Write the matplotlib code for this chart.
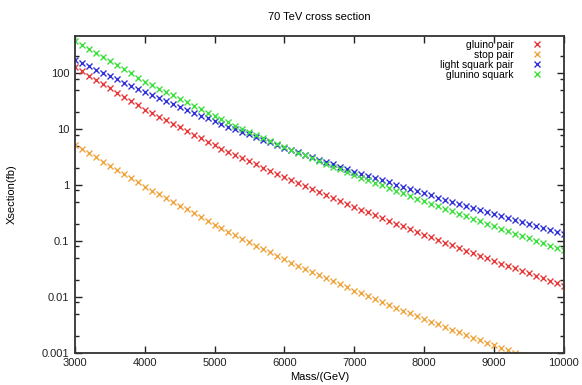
import numpy as np
import matplotlib
matplotlib.use("Agg")
import matplotlib.pyplot as plt
from matplotlib.ticker import LogLocator, FixedLocator, NullFormatter

plt.rcParams['font.family'] = ['Liberation Sans', 'DejaVu Sans']

# masses in GeV, one point every 100 GeV
mass = list(range(3000, 10001, 100))

gluino_pair = [
    129, 108, 90.8, 76.2, 64.0, 53.7, 45.1, 37.8, 31.8, 26.7,
    22.4, 19.3, 16.7, 14.4, 12.4, 10.7, 9.25, 7.98, 6.89, 5.94,
    5.13, 4.50, 3.94, 3.46, 3.03, 2.66, 2.33, 2.05, 1.79, 1.57,
    1.38, 1.22, 1.08, 0.957, 0.847, 0.750, 0.664, 0.587, 0.520, 0.460,
    0.407, 0.363, 0.324, 0.288, 0.257, 0.229, 0.204, 0.182, 0.162, 0.145,
    0.129, 0.116, 0.104, 0.0931, 0.0836, 0.0750, 0.0673, 0.0604, 0.0542, 0.0486,
    0.0437, 0.0394, 0.0356, 0.0322, 0.0291, 0.0263, 0.0238, 0.0215, 0.0194, 0.0175,
    0.0158]

stop_pair = [
    5.25, 4.42, 3.72, 3.13, 2.63, 2.21, 1.86, 1.57, 1.32, 1.11,
    0.933, 0.798, 0.682, 0.583, 0.499, 0.427, 0.365, 0.312, 0.267, 0.228,
    0.195, 0.169, 0.147, 0.127, 0.110, 0.0955, 0.0828, 0.0718, 0.0622, 0.0540,
    0.0468, 0.0411, 0.0361, 0.0318, 0.0279, 0.0245, 0.0216, 0.0190, 0.0167, 0.0147,
    0.0129, 0.0115, 0.0102, 0.00906, 0.00805, 0.00716, 0.00637, 0.00566, 0.00504, 0.00448,
    0.00398, 0.00357, 0.00321, 0.00288, 0.00258, 0.00232, 0.00208, 0.00187, 0.00167, 0.00150,
    0.00135, 0.00122, 0.00110, 0.000995, 0.000899, 0.000813, 0.000735, 0.000664, 0.000600, 0.000542,
    0.000490]

light_squark_pair = [
    174, 152, 133, 116, 102, 89.1, 78.0, 68.2, 59.7, 52.2,
    45.7, 40.6, 36.0, 31.9, 28.3, 25.1, 22.3, 19.8, 17.5, 15.6,
    13.8, 12.4, 11.1, 9.98, 8.95, 8.04, 7.21, 6.47, 5.81, 5.21,
    4.68, 4.24, 3.84, 3.48, 3.15, 2.85, 2.58, 2.34, 2.12, 1.92,
    1.74, 1.59, 1.45, 1.33, 1.21, 1.11, 1.01, 0.927, 0.847, 0.774,
    0.708, 0.650, 0.597, 0.548, 0.504, 0.462, 0.425, 0.390, 0.358, 0.329,
    0.302, 0.279, 0.257, 0.237, 0.219, 0.202, 0.186, 0.172, 0.158, 0.146,
    0.135]

gluino_squark = [
    380, 321, 272, 230, 194, 164, 139, 117, 99.1, 83.8,
    70.8, 61.4, 53.2, 46.1, 40.0, 34.7, 30.1, 26.1, 22.6, 19.6,
    17.0, 15.0, 13.2, 11.6, 10.2, 9.02, 7.94, 7.00, 6.17, 5.43,
    4.79, 4.27, 3.80, 3.39, 3.02, 2.69, 2.40, 2.14, 1.91, 1.70,
    1.51, 1.36, 1.22, 1.09, 0.982, 0.881, 0.791, 0.710, 0.637, 0.571,
    0.513, 0.462, 0.417, 0.376, 0.339, 0.305, 0.275, 0.248, 0.224, 0.202,
    0.182, 0.165, 0.149, 0.135, 0.122, 0.111, 0.100, 0.0910, 0.0824, 0.0746,
    0.0676]

labels = ["gluino pair", "stop pair", "light squark pair", "glunino squark"]
colors = ["#e83a3a", "#f0a640", "#3232d8", "#3ee03e"]

fig = plt.figure(figsize=(5.82, 3.85), dpi=100)
ax = fig.add_axes([0.1284, 0.0839, 0.8406, 0.8234])

for ys, lab, c in zip([gluino_pair, stop_pair, light_squark_pair, gluino_squark], labels, colors):
    ax.plot(mass, ys, linestyle='none', marker='x', markersize=4.5, markeredgewidth=1,
            color=c, label=lab)

ax.set_yscale('log')
ax.set_xlim(3000, 10000)
ax.set_ylim(0.001, 470)
ax.set_xticks(range(3000, 10001, 1000))
ax.yaxis.set_major_locator(FixedLocator([0.001, 0.01, 0.1, 1, 10, 100]))
ax.set_yticklabels(["0.001", "0.01", "0.1", "1", "10", "100"])
ax.yaxis.set_minor_locator(LogLocator(base=10, subs=[2, 5, 8]))
ax.yaxis.set_minor_formatter(NullFormatter())

ax.tick_params(which='both', direction='in', top=True, right=True, labelsize=8,
               colors='#222222', width=1)
ax.tick_params(which='major', length=5, pad=4)
ax.tick_params(which='minor', length=3)
for s in ax.spines.values():
    s.set_color('#333333')
    s.set_linewidth(1.3)

ax.set_title("70 TeV cross section", fontsize=8, pad=11)
ax.set_xlabel("Mass/(GeV)", fontsize=8, labelpad=3)
ax.set_ylabel("Xsection(fb)", fontsize=8, labelpad=18)

ax.legend(loc='upper right', markerfirst=False, frameon=False, fontsize=7.5,
          handlelength=1.0, handletextpad=1.7, labelspacing=0.0,
          borderaxespad=0.3, bbox_to_anchor=(0.97, 1.01))

fig.savefig("out.png", dpi=100)
